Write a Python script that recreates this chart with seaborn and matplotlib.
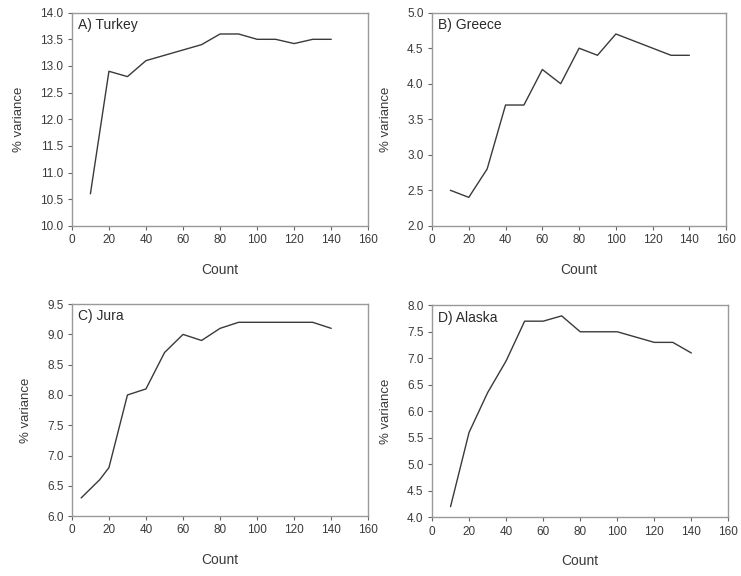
import pandas as pd
import matplotlib
matplotlib.use("Agg")
import matplotlib.pyplot as plt
import seaborn as sns

# values
turkey_x = [10, 20, 30, 40, 50, 60, 70, 80, 90, 100, 110, 120, 130, 140]
turkey_y = [10.6, 12.9, 12.8, 13.1, 13.2, 13.3, 13.4, 13.6, 13.6, 13.5, 13.5, 13.42, 13.5, 13.5]

greece_x = [10, 20, 30, 40, 50, 60, 70, 80, 90, 100, 110, 120, 130, 140]
greece_y = [2.5, 2.4, 2.8, 3.7, 3.7, 4.2, 4.0, 4.5, 4.4, 4.7, 4.6, 4.5, 4.4, 4.4]

jura_x = [5, 10, 15, 20, 25, 30, 40, 45, 50, 55, 60, 70, 80, 90, 100, 110, 120, 130, 140]
jura_y = [6.3, 6.45, 6.6, 6.8, 7.4, 8.0, 8.1, 8.4, 8.7, 8.85, 9.0, 8.9, 9.1, 9.2, 9.2, 9.2, 9.2, 9.2, 9.1]

alaska_x = [10, 20, 30, 40, 50, 60, 70, 80, 90, 100, 110, 120, 130, 140]
alaska_y = [4.2, 5.6, 6.35, 6.95, 7.7, 7.7, 7.8, 7.5, 7.5, 7.5, 7.4, 7.3, 7.3, 7.1]

titles = ["A) Turkey", "B) Greece", "C) Jura", "D) Alaska"]
ylims = [(10, 14), (2, 5), (6, 9.5), (4, 8)]

sns.set_style("ticks")
plt.rcParams['font.family'] = ['Liberation Sans', 'DejaVu Sans']

fig = plt.figure(figsize=(7.41, 5.76), dpi=100)
boxes = [
    [0.097, 0.608, 0.400, 0.370],
    [0.583, 0.608, 0.397, 0.370],
    [0.097, 0.104, 0.400, 0.368],
    [0.583, 0.102, 0.400, 0.368],
]

series = [(turkey_x, turkey_y), (greece_x, greece_y), (jura_x, jura_y), (alaska_x, alaska_y)]

for box, (xs, ys), title, ylim in zip(boxes, series, titles, ylims):
    ax = fig.add_axes(box)
    df = pd.DataFrame({'Count': xs, 'var': ys})
    sns.lineplot(data=df, x='Count', y='var', ax=ax, color='#3a3a3a', linewidth=1.0)
    ax.set_xlim(0, 160)
    ax.set_ylim(*ylim)
    ax.set_xticks(range(0, 161, 20))
    ax.set_yticks([v / 10 for v in range(int(ylim[0] * 10), int(ylim[1] * 10) + 1, 5)])
    ax.yaxis.set_major_formatter(matplotlib.ticker.FormatStrFormatter('%.1f'))
    ax.tick_params(labelsize=8.5, length=3, width=0.8, color='#666666', labelcolor='#3a3a3a', pad=3)
    for s in ax.spines.values():
        s.set_color('#999999')
        s.set_linewidth(1.0)
    ax.set_xlabel("Count", fontsize=10, color='#3a3a3a', labelpad=12)
    ax.set_ylabel("% variance", fontsize=9.5, color='#3a3a3a', labelpad=11)
    ax.text(0.02, 0.975, title, transform=ax.transAxes, fontsize=10,
            va='top', ha='left', color='#2a2a2a')

fig.savefig("out.png", dpi=100)
